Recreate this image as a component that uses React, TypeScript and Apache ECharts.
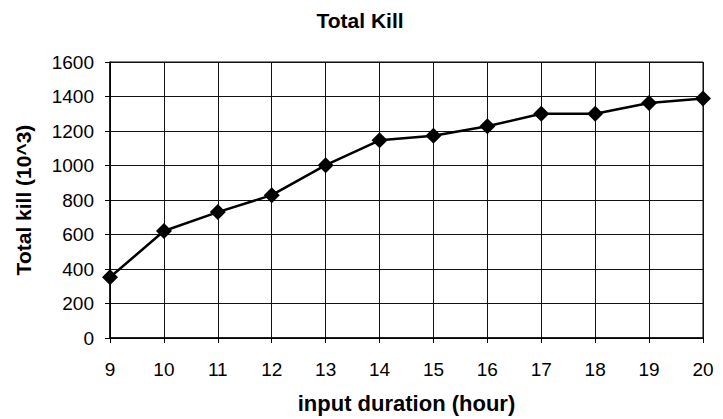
import React, { useEffect, useRef } from "react";
import * as echarts from "echarts";

const hours = ["9", "10", "11", "12", "13", "14", "15", "16", "17", "18", "19", "20"];
const totalKill = [352, 620, 730, 828, 1002, 1146, 1173, 1228, 1300, 1300, 1362, 1388];
const titleText = "Total Kill";
const xName = "input duration (hour)";
const yName = "Total kill (10^3)";

export default function App() {
  const ref = useRef<HTMLDivElement>(null);
  useEffect(() => {
    if (!ref.current) return;
    const chart = echarts.init(ref.current, null, { renderer: "svg" });
    const font = "'Liberation Sans', Arial, sans-serif";
    chart.setOption({
      animation: false,
      backgroundColor: "#ffffff",
      title: {
        text: titleText,
        left: 355,
        top: 5,
        textAlign: "center",
        textStyle: { fontFamily: font, fontSize: 21, fontWeight: "bold", color: "#000" },
      },
      grid: {
        left: 110, right: 20, top: 62, bottom: 81, containLabel: false,
        show: true, borderColor: "#000", borderWidth: 1,
      },
      xAxis: {
        type: "category",
        data: hours,
        boundaryGap: false,
        name: xName,
        nameLocation: "middle",
        nameGap: 54,
        nameTextStyle: { fontFamily: font, fontSize: 22, fontWeight: "bold", color: "#000" },
        axisLine: { lineStyle: { color: "#000", width: 1.5 } },
        axisTick: { show: true, length: 5, lineStyle: { color: "#000" } },
        axisLabel: { fontFamily: font, fontSize: 19, color: "#000", margin: 22 },
        splitLine: { show: true, lineStyle: { color: "#111", width: 1 } },
      },
      yAxis: {
        type: "value",
        min: 0,
        max: 1600,
        interval: 200,
        name: yName,
        nameLocation: "middle",
        nameGap: 76,
        nameRotate: 90,
        nameTextStyle: { fontFamily: font, fontSize: 21, fontWeight: "bold", color: "#000" },
        axisLine: { show: true, lineStyle: { color: "#000", width: 1.5 } },
        axisTick: { show: true, length: 5, lineStyle: { color: "#000" } },
        axisLabel: {
          fontFamily: font, fontSize: 19, color: "#000", margin: 16,
          formatter: (v: number) => String(v),
        },
        splitLine: { show: true, lineStyle: { color: "#111", width: 1 } },
      },
      series: [
        {
          type: "line",
          data: totalKill,
          symbol: "diamond",
          symbolSize: 16,
          lineStyle: { color: "#000", width: 2.5 },
          itemStyle: { color: "#000" },
        },
      ],
    });
    return () => chart.dispose();
  }, []);
  return <div ref={ref} style={{ width: 723, height: 419, position: "absolute", left: 0, top: 0 }} />;
}
